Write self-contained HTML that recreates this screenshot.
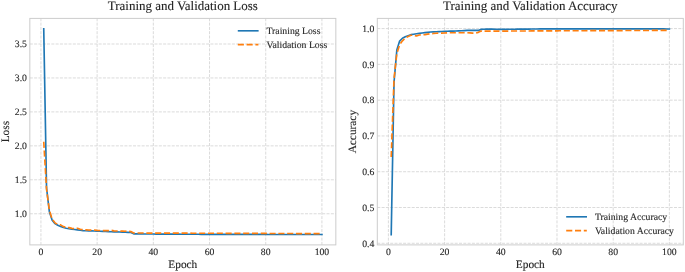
<!DOCTYPE html>
<html><head><meta charset="utf-8"><style>
html,body{margin:0;padding:0;background:#fff;width:685px;height:272px;overflow:hidden}
svg{display:block;font-family:"Liberation Serif",serif;text-rendering:geometricPrecision;will-change:transform}
text{stroke:#262626;stroke-width:0.12px}
</style></head><body>
<svg width="685" height="272" viewBox="0 0 685 272" font-family='"Liberation Serif", serif' fill="#262626">
<rect width="685" height="272" fill="#fff"/>
<line x1="40.93" y1="244.9" x2="40.93" y2="18.4" stroke="#d4d4d4" stroke-width="0.85" stroke-dasharray="3 1.3"/>
<line x1="97.13" y1="244.9" x2="97.13" y2="18.4" stroke="#d4d4d4" stroke-width="0.85" stroke-dasharray="3 1.3"/>
<line x1="153.33" y1="244.9" x2="153.33" y2="18.4" stroke="#d4d4d4" stroke-width="0.85" stroke-dasharray="3 1.3"/>
<line x1="209.52" y1="244.9" x2="209.52" y2="18.4" stroke="#d4d4d4" stroke-width="0.85" stroke-dasharray="3 1.3"/>
<line x1="265.72" y1="244.9" x2="265.72" y2="18.4" stroke="#d4d4d4" stroke-width="0.85" stroke-dasharray="3 1.3"/>
<line x1="321.92" y1="244.9" x2="321.92" y2="18.4" stroke="#d4d4d4" stroke-width="0.85" stroke-dasharray="3 1.3"/>
<line x1="29.83" y1="213.75" x2="335.83" y2="213.75" stroke="#d4d4d4" stroke-width="0.85" stroke-dasharray="3 1.3"/>
<line x1="29.83" y1="179.80" x2="335.83" y2="179.80" stroke="#d4d4d4" stroke-width="0.85" stroke-dasharray="3 1.3"/>
<line x1="29.83" y1="145.85" x2="335.83" y2="145.85" stroke="#d4d4d4" stroke-width="0.85" stroke-dasharray="3 1.3"/>
<line x1="29.83" y1="111.90" x2="335.83" y2="111.90" stroke="#d4d4d4" stroke-width="0.85" stroke-dasharray="3 1.3"/>
<line x1="29.83" y1="77.95" x2="335.83" y2="77.95" stroke="#d4d4d4" stroke-width="0.85" stroke-dasharray="3 1.3"/>
<line x1="29.83" y1="44.00" x2="335.83" y2="44.00" stroke="#d4d4d4" stroke-width="0.85" stroke-dasharray="3 1.3"/>
<polyline points="43.74,28.72 46.55,187.95 49.36,211.71 52.17,220.20 54.98,223.60 57.79,225.29 60.60,226.52 63.41,227.47 66.22,228.21 69.03,228.76 71.84,229.13 74.65,229.50 77.46,229.86 80.27,230.23 83.08,230.59 85.89,230.70 88.70,230.81 91.51,230.92 94.32,231.02 97.13,231.13 99.94,231.25 102.75,231.36 105.56,231.47 108.37,231.59 111.18,231.70 113.99,231.81 116.80,231.92 119.61,232.04 122.42,232.15 125.23,232.26 128.04,232.38 130.85,232.49 133.66,233.85 136.47,233.88 139.28,233.91 142.09,233.94 144.90,233.96 147.71,233.99 150.52,234.02 153.33,234.05 156.14,234.07 158.95,234.08 161.76,234.10 164.57,234.11 167.38,234.13 170.19,234.14 173.00,234.16 175.81,234.17 178.62,234.19 181.43,234.20 184.23,234.22 187.04,234.24 189.85,234.25 192.66,234.27 195.47,234.28 198.28,234.30 201.09,234.31 203.90,234.33 206.71,234.34 209.52,234.36 212.33,234.36 215.14,234.37 217.95,234.37 220.76,234.37 223.57,234.38 226.38,234.38 229.19,234.39 232.00,234.39 234.81,234.40 237.62,234.40 240.43,234.40 243.24,234.41 246.05,234.41 248.86,234.42 251.67,234.42 254.48,234.43 257.29,234.43 260.10,234.43 262.91,234.44 265.72,234.44 268.53,234.45 271.34,234.45 274.15,234.46 276.96,234.46 279.77,234.46 282.58,234.47 285.39,234.47 288.20,234.48 291.01,234.48 293.82,234.48 296.63,234.49 299.44,234.49 302.25,234.50 305.06,234.50 307.87,234.51 310.68,234.51 313.49,234.51 316.30,234.52 319.11,234.52 321.92,234.53" fill="none" stroke="#1f77b4" stroke-width="1.65" stroke-linejoin="round" stroke-linecap="square"/>
<polyline points="43.74,141.78 46.55,189.31 49.36,210.35 52.17,219.18 54.98,222.85 57.79,224.48 60.60,224.89 63.41,226.65 66.22,227.33 69.03,227.67 71.84,228.35 74.65,228.62 77.46,228.28 80.27,229.23 83.08,229.64 85.89,229.84 88.70,230.05 91.51,230.05 94.32,230.05 97.13,230.32 99.94,230.45 102.75,230.59 105.56,230.62 108.37,230.66 111.18,230.32 113.99,230.86 116.80,230.96 119.61,231.06 122.42,231.13 125.23,231.20 128.04,230.93 130.85,231.61 133.66,232.97 136.47,232.99 139.28,233.00 142.09,233.02 144.90,233.04 147.71,233.06 150.52,233.08 153.33,233.10 156.14,233.11 158.95,233.12 161.76,233.12 164.57,233.13 167.38,233.14 170.19,233.14 173.00,233.15 175.81,233.16 178.62,233.16 181.43,233.17 184.23,233.18 187.04,233.18 189.85,233.19 192.66,233.20 195.47,233.20 198.28,233.21 201.09,233.22 203.90,233.22 206.71,233.23 209.52,233.24 212.33,233.25 215.14,233.26 217.95,233.27 220.76,233.28 223.57,233.29 226.38,233.30 229.19,233.31 232.00,233.32 234.81,233.33 237.62,233.34 240.43,233.35 243.24,233.36 246.05,233.37 248.86,233.38 251.67,233.39 254.48,233.40 257.29,233.41 260.10,233.42 262.91,233.43 265.72,233.44 268.53,233.45 271.34,233.46 274.15,233.47 276.96,233.48 279.77,233.49 282.58,233.50 285.39,233.51 288.20,233.52 291.01,233.53 293.82,233.54 296.63,233.55 299.44,233.56 302.25,233.57 305.06,233.58 307.87,233.59 310.68,233.60 313.49,233.61 316.30,233.62 319.11,233.63 321.92,233.64" fill="none" stroke="#ff7f0e" stroke-width="1.65" stroke-linejoin="round" stroke-linecap="butt" stroke-dasharray="6.1 2.7"/>
<rect x="29.83" y="18.4" width="306.00" height="226.50" fill="none" stroke="#cccccc" stroke-width="1.0"/>
<text x="40.93" y="254.5" text-anchor="middle" font-size="9.72">0</text>
<text x="97.13" y="254.5" text-anchor="middle" font-size="9.72">20</text>
<text x="153.33" y="254.5" text-anchor="middle" font-size="9.72">40</text>
<text x="209.52" y="254.5" text-anchor="middle" font-size="9.72">60</text>
<text x="265.72" y="254.5" text-anchor="middle" font-size="9.72">80</text>
<text x="321.92" y="254.5" text-anchor="middle" font-size="9.72">100</text>
<text x="26.93" y="217.05" text-anchor="end" font-size="9.72">1.0</text>
<text x="26.93" y="183.10" text-anchor="end" font-size="9.72">1.5</text>
<text x="26.93" y="149.15" text-anchor="end" font-size="9.72">2.0</text>
<text x="26.93" y="115.20" text-anchor="end" font-size="9.72">2.5</text>
<text x="26.93" y="81.25" text-anchor="end" font-size="9.72">3.0</text>
<text x="26.93" y="47.30" text-anchor="end" font-size="9.72">3.5</text>
<line x1="238.60000000000002" y1="30.8" x2="257.8" y2="30.8" stroke="#1f77b4" stroke-width="1.65" stroke-linecap="square"/>
<line x1="237.8" y1="44.55" x2="258.40000000000003" y2="44.55" stroke="#ff7f0e" stroke-width="1.65" stroke-dasharray="6.1 2.7"/>
<text x="266.5" y="34.2" font-size="9.72">Training Loss</text>
<text x="266.5" y="47.949999999999996" font-size="9.72">Validation Loss</text>
<text x="182.83" y="10.3" text-anchor="middle" font-size="12.96">Training and Validation Loss</text>
<text x="182.83" y="267.6" text-anchor="middle" font-size="11.34">Epoch</text>
<text transform="translate(9.4 131.65) rotate(-90)" text-anchor="middle" font-size="11.34">Loss</text>
<line x1="388.40" y1="244.9" x2="388.40" y2="18.4" stroke="#d4d4d4" stroke-width="0.85" stroke-dasharray="3 1.3"/>
<line x1="444.60" y1="244.9" x2="444.60" y2="18.4" stroke="#d4d4d4" stroke-width="0.85" stroke-dasharray="3 1.3"/>
<line x1="500.80" y1="244.9" x2="500.80" y2="18.4" stroke="#d4d4d4" stroke-width="0.85" stroke-dasharray="3 1.3"/>
<line x1="556.99" y1="244.9" x2="556.99" y2="18.4" stroke="#d4d4d4" stroke-width="0.85" stroke-dasharray="3 1.3"/>
<line x1="613.19" y1="244.9" x2="613.19" y2="18.4" stroke="#d4d4d4" stroke-width="0.85" stroke-dasharray="3 1.3"/>
<line x1="669.39" y1="244.9" x2="669.39" y2="18.4" stroke="#d4d4d4" stroke-width="0.85" stroke-dasharray="3 1.3"/>
<line x1="377.3" y1="243.29" x2="683.3" y2="243.29" stroke="#d4d4d4" stroke-width="0.85" stroke-dasharray="3 1.3"/>
<line x1="377.3" y1="207.51" x2="683.3" y2="207.51" stroke="#d4d4d4" stroke-width="0.85" stroke-dasharray="3 1.3"/>
<line x1="377.3" y1="171.73" x2="683.3" y2="171.73" stroke="#d4d4d4" stroke-width="0.85" stroke-dasharray="3 1.3"/>
<line x1="377.3" y1="135.94" x2="683.3" y2="135.94" stroke="#d4d4d4" stroke-width="0.85" stroke-dasharray="3 1.3"/>
<line x1="377.3" y1="100.16" x2="683.3" y2="100.16" stroke="#d4d4d4" stroke-width="0.85" stroke-dasharray="3 1.3"/>
<line x1="377.3" y1="64.37" x2="683.3" y2="64.37" stroke="#d4d4d4" stroke-width="0.85" stroke-dasharray="3 1.3"/>
<line x1="377.3" y1="28.59" x2="683.3" y2="28.59" stroke="#d4d4d4" stroke-width="0.85" stroke-dasharray="3 1.3"/>
<polyline points="391.21,234.63 394.02,82.27 396.83,50.06 399.64,41.11 402.45,38.25 405.26,36.82 408.07,35.75 410.88,34.67 413.69,34.23 416.50,33.79 419.31,33.35 422.12,33.01 424.93,32.67 427.74,32.33 430.55,31.99 433.36,31.87 436.17,31.75 438.98,31.62 441.79,31.50 444.60,31.38 447.41,31.28 450.22,31.18 453.03,31.09 455.84,30.99 458.65,30.84 461.46,30.70 464.27,30.56 467.08,30.44 469.89,30.32 472.70,30.20 475.51,30.31 478.32,30.41 481.13,29.38 483.94,29.20 486.75,29.02 489.56,29.09 492.37,29.16 495.18,29.23 497.99,29.31 500.80,29.38 503.61,29.35 506.42,29.31 509.23,29.28 512.04,29.25 514.85,29.22 517.66,29.19 520.47,29.16 523.28,29.12 526.09,29.09 528.90,29.06 531.70,29.03 534.51,29.00 537.32,28.97 540.13,28.94 542.94,28.90 545.75,28.87 548.56,28.84 551.37,28.84 554.18,28.85 556.99,28.85 559.80,28.85 562.61,28.85 565.42,28.86 568.23,28.86 571.04,28.86 573.85,28.86 576.66,28.87 579.47,28.87 582.28,28.87 585.09,28.87 587.90,28.88 590.71,28.88 593.52,28.88 596.33,28.88 599.14,28.89 601.95,28.89 604.76,28.89 607.57,28.89 610.38,28.90 613.19,28.90 616.00,28.90 618.81,28.90 621.62,28.91 624.43,28.91 627.24,28.91 630.05,28.91 632.86,28.92 635.67,28.92 638.48,28.92 641.29,28.92 644.10,28.93 646.91,28.93 649.72,28.93 652.53,28.93 655.34,28.94 658.15,28.94 660.96,28.94 663.77,28.94 666.58,28.95 669.39,28.95" fill="none" stroke="#1f77b4" stroke-width="1.65" stroke-linejoin="round" stroke-linecap="square"/>
<polyline points="391.21,157.05 394.02,78.69 396.83,53.64 399.64,44.69 402.45,40.76 405.26,38.25 408.07,36.46 410.88,35.21 413.69,35.39 416.50,35.93 419.31,35.03 422.12,34.82 424.93,34.60 427.74,34.15 430.55,33.71 433.36,33.50 436.17,33.30 438.98,33.10 441.79,33.06 444.60,33.03 447.41,32.88 450.22,32.74 453.03,32.74 455.84,32.74 458.65,32.74 461.46,32.74 464.27,32.74 467.08,32.74 469.89,32.92 472.70,33.10 475.51,33.10 478.32,32.35 481.13,31.09 483.94,31.09 486.75,31.09 489.56,31.09 492.37,31.09 495.18,31.09 497.99,31.09 500.80,31.09 503.61,31.08 506.42,31.07 509.23,31.05 512.04,31.04 514.85,31.02 517.66,31.01 520.47,30.99 523.28,30.98 526.09,30.97 528.90,30.95 531.70,30.94 534.51,30.92 537.32,30.91 540.13,30.89 542.94,30.88 545.75,30.87 548.56,30.85 551.37,30.84 554.18,30.82 556.99,30.81 559.80,30.80 562.61,30.79 565.42,30.78 568.23,30.77 571.04,30.75 573.85,30.74 576.66,30.73 579.47,30.72 582.28,30.71 585.09,30.70 587.90,30.69 590.71,30.68 593.52,30.67 596.33,30.66 599.14,30.65 601.95,30.64 604.76,30.63 607.57,30.62 610.38,30.60 613.19,30.59 616.00,30.58 618.81,30.57 621.62,30.56 624.43,30.55 627.24,30.54 630.05,30.53 632.86,30.52 635.67,30.51 638.48,30.50 641.29,30.49 644.10,30.48 646.91,30.47 649.72,30.45 652.53,30.44 655.34,30.43 658.15,30.42 660.96,30.41 663.77,30.40 666.58,30.39 669.39,30.38" fill="none" stroke="#ff7f0e" stroke-width="1.65" stroke-linejoin="round" stroke-linecap="butt" stroke-dasharray="6.1 2.7"/>
<rect x="377.3" y="18.4" width="306.00" height="226.50" fill="none" stroke="#cccccc" stroke-width="1.0"/>
<text x="388.40" y="254.5" text-anchor="middle" font-size="9.72">0</text>
<text x="444.60" y="254.5" text-anchor="middle" font-size="9.72">20</text>
<text x="500.80" y="254.5" text-anchor="middle" font-size="9.72">40</text>
<text x="556.99" y="254.5" text-anchor="middle" font-size="9.72">60</text>
<text x="613.19" y="254.5" text-anchor="middle" font-size="9.72">80</text>
<text x="669.39" y="254.5" text-anchor="middle" font-size="9.72">100</text>
<text x="374.40" y="246.59" text-anchor="end" font-size="9.72">0.4</text>
<text x="374.40" y="210.81" text-anchor="end" font-size="9.72">0.5</text>
<text x="374.40" y="175.03" text-anchor="end" font-size="9.72">0.6</text>
<text x="374.40" y="139.24" text-anchor="end" font-size="9.72">0.7</text>
<text x="374.40" y="103.46" text-anchor="end" font-size="9.72">0.8</text>
<text x="374.40" y="67.67" text-anchor="end" font-size="9.72">0.9</text>
<text x="374.40" y="31.89" text-anchor="end" font-size="9.72">1.0</text>
<line x1="567.0" y1="216.8" x2="586.2" y2="216.8" stroke="#1f77b4" stroke-width="1.65" stroke-linecap="square"/>
<line x1="566.2" y1="230.55" x2="586.8000000000001" y2="230.55" stroke="#ff7f0e" stroke-width="1.65" stroke-dasharray="6.1 2.7"/>
<text x="594.9000000000001" y="220.20000000000002" font-size="9.72">Training Accuracy</text>
<text x="594.9000000000001" y="233.95000000000002" font-size="9.72">Validation Accuracy</text>
<text x="530.30" y="10.3" text-anchor="middle" font-size="12.96">Training and Validation Accuracy</text>
<text x="530.30" y="267.6" text-anchor="middle" font-size="11.34">Epoch</text>
<text transform="translate(356.0 131.65) rotate(-90)" text-anchor="middle" font-size="11.34">Accuracy</text>
</svg>
</body></html>
